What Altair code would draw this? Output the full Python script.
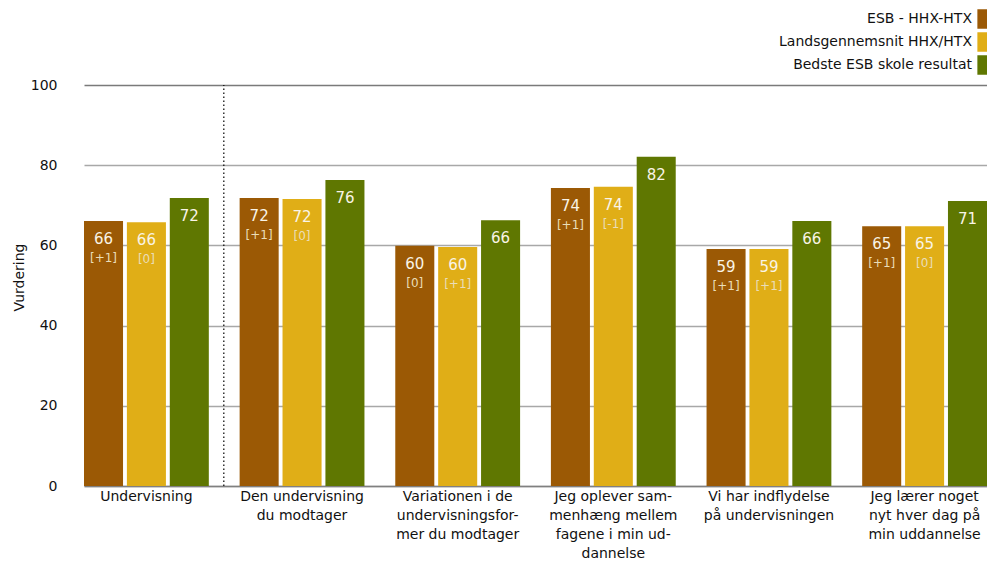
import altair as alt
import pandas as pd

categories = [
    "Undervisning",
    "Den undervisning\ndu modtager",
    "Variationen i de\nundervisningsfor-\nmer du modtager",
    "Jeg oplever sam-\nmenhæng mellem\nfagene i min ud-\ndannelse",
    "Vi har indflydelse\npå undervisningen",
    "Jeg lærer noget\nnyt hver dag på\nmin uddannelse",
]
series = ["ESB - HHX-HTX", "Landsgennemsnit HHX/HTX", "Bedste ESB skole resultat"]
colors = ["#9B5905", "#E0AE17", "#5F7701"]

esb = [66.1, 71.8, 59.9, 74.3, 59.1, 64.8]
lands = [65.8, 71.6, 59.6, 74.6, 59.1, 64.8]
best = [71.8, 76.3, 66.3, 82.1, 66.1, 71.1]

esb_lbl = [66, 72, 60, 74, 59, 65]
lands_lbl = [66, 72, 60, 74, 59, 65]
best_lbl = [72, 76, 66, 82, 66, 71]

esb_chg = ["[+1]", "[+1]", "[0]", "[+1]", "[+1]", "[+1]"]
lands_chg = ["[0]", "[0]", "[+1]", "[-1]", "[+1]", "[0]"]
best_chg = ["", "", "", "", "", ""]

rows = []
for s, vals, lbls, chgs in zip(series, [esb, lands, best], [esb_lbl, lands_lbl, best_lbl],
                               [esb_chg, lands_chg, best_chg]):
    for c, v, l, ch in zip(categories, vals, lbls, chgs):
        rows.append({"cat": c, "serie": s, "value": v, "label": str(l), "chg": ch})
df = pd.DataFrame(rows)

FONT = "DejaVu Sans"

xscale = alt.Scale(range=[16, 919], paddingInner=0.198, paddingOuter=0)
x = alt.X("cat:N", sort=categories, title=None, scale=xscale,
          axis=alt.Axis(labelExpr="split(datum.label, '\\n')", labelAngle=0,
                        labelFontSize=14, labelFont=FONT, labelColor="#111",
                        labelLineHeight=19, labelPadding=3, ticks=False,
                        domainColor="#808080", domainWidth=1.5, labelLimit=300))
xo = alt.XOffset("serie:N", sort=series, scale=alt.Scale(paddingInner=0.09))
y = alt.Y("value:Q", title="Vurdering",
          scale=alt.Scale(domain=[0, 100], nice=False),
          axis=alt.Axis(values=[0, 20, 40, 60, 80, 100], ticks=False, domain=False,
                        labelFontSize=14, labelFont=FONT, labelColor="#111",
                        labelPadding=11, titleFontSize=14, titleFont=FONT,
                        titleFontWeight="normal", titleColor="#111",
                        titleX=-49, titleY=192, titleBaseline="middle",
                        gridColor=alt.condition("datum.value == 100", alt.value("#7a7a7a"), alt.value("#a8a8a8")),
                        gridWidth=1.5))

color = alt.Color("serie:N", sort=series, scale=alt.Scale(domain=series, range=colors),
                  legend=alt.Legend(orient="none", legendX=906, legendY=-76, title=None,
                                    labelAlign="right", labelOffset={"expr": "-22"},
                                    symbolType="M-0.68,-1L0.68,-1L0.68,1L-0.68,1Z",
                                    symbolSize=380, symbolStrokeWidth=0, symbolOpacity=1,
                                    rowPadding=3, labelFontSize=14, labelFont=FONT,
                                    labelColor="#111", padding=0, labelLimit=400))

base = alt.Chart(df)
bars = base.mark_bar().encode(x=x, xOffset=xo, y=y, color=color)
vals = base.mark_text(baseline="middle", dy=18, fontSize=15, font=FONT, color="#F9F4E6").encode(
    x=alt.X("cat:N", sort=categories, scale=xscale), xOffset=xo, y="value:Q", text="label:N")
chgs = base.mark_text(baseline="middle", dy=37, fontSize=12, font=FONT, color="#EADDB8").encode(
    x=alt.X("cat:N", sort=categories, scale=xscale), xOffset=xo, y="value:Q", text="chg:N")

sep = alt.Chart(pd.DataFrame({"cat": [categories[0]]})).mark_rule(
    color="#000", strokeDash=[1.5, 2.5], strokeWidth=1.2, xOffset=15).encode(
    x=alt.X("cat:N", sort=categories, bandPosition=1, scale=xscale),
    y=alt.datum(0), y2=alt.datum(100))

chart = alt.layer(bars, sep, vals, chgs).properties(
    width=919, height=401,
    autosize=alt.AutoSizeParams(type="none"),
    padding={"left": 60, "top": 77, "right": 0, "bottom": 75},
).configure_view(stroke=None).configure_axisX(grid=False)

chart.save("out.html", embed_options={"renderer": "svg", "actions": False})
